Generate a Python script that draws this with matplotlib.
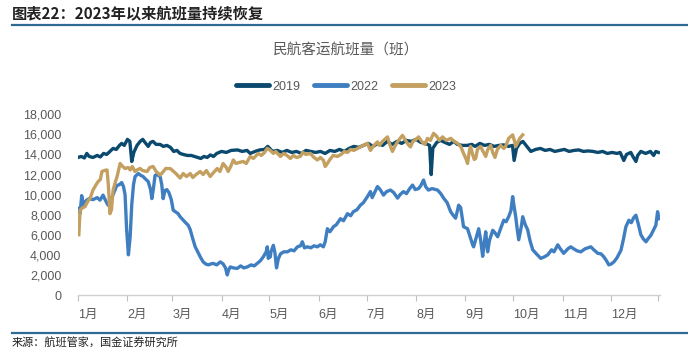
import matplotlib
matplotlib.use("Agg")
import matplotlib.pyplot as plt
from matplotlib.ticker import FuncFormatter
from matplotlib.lines import Line2D

plt.rcParams["font.family"] = ["Liberation Sans", "Noto Sans CJK SC"]

# day-of-year positions and values
days_2019 = [0, 2, 4, 5.5, 7, 9.4, 12, 14, 16, 18, 20, 22, 24, 26, 27.4, 29, 31, 32.5, 33.7, 35,
             37, 39, 40.6, 42, 44, 45.5, 47, 49, 51.5, 53.5, 55.7, 58, 60, 62, 64, 66, 68.5, 71, 73, 75,
             77, 79, 81, 83, 85, 87, 90, 93, 96, 100, 103, 106, 108, 111, 114, 117, 119, 122, 125, 128,
             131, 134, 137, 140, 143, 146, 149, 152, 155, 158, 161, 164, 167, 170, 173, 176, 179, 182, 185, 188,
             191, 194, 197, 200, 203, 206, 209, 212, 215, 218, 220.5, 221.5, 222.5, 225, 227.4, 230, 233, 235.6, 238, 241,
             244, 247, 249, 252, 255, 258, 261, 264, 267, 270, 272.5, 273.5, 275, 277, 279, 281, 284, 287, 290, 293,
             296, 299, 302, 305, 308, 311, 314, 317, 320, 323, 326, 329, 332, 335, 338, 340, 342.3, 344, 346.7, 348,
             349.9, 351, 353, 356, 359, 361, 362.4, 364]
flights_2019 = [13700, 13800, 13650, 14100, 13800, 13700, 13900, 13750, 14100, 14000, 14300, 14600, 14500, 14900, 15100, 14900, 15500, 15300, 13300, 14200,
                14900, 15300, 15500, 15200, 14800, 15200, 15300, 15000, 15000, 14800, 14900, 14700, 14300, 14400, 14100, 14000, 13900, 13900, 13800, 13700,
                13600, 13800, 13700, 13950, 13800, 14100, 14300, 14200, 14400, 14450, 14300, 14400, 14100, 14300, 14450, 14500, 14800, 14300, 14400, 14200,
                14400, 14200, 14300, 14100, 14400, 14300, 14200, 14300, 14100, 14400, 14300, 14500, 14300, 14600, 14800, 14700, 14900, 15100, 14800, 15100,
                14900, 15300, 15000, 15300, 15100, 15400, 15300, 15500, 15200, 15100, 14900, 12000, 14600, 15200, 15400, 15200, 15000, 15300, 15000, 14900,
                14900, 15000, 14800, 15100, 14900, 15000, 14800, 14900, 14950, 14800, 14900, 13400, 14600, 15100, 15300, 14900, 14300, 14500, 14600, 14400,
                14500, 14300, 14400, 14500, 14300, 14400, 14450, 14300, 14350, 14300, 14200, 14300, 14100, 14200, 14100, 14200, 13400, 14000, 14200, 13800,
                13300, 13900, 14300, 14100, 14300, 13900, 14300, 14200]

days_2022 = [0, 1.3, 2.3, 3.5, 5, 7, 9.4, 12, 13.8, 15.7, 17, 18.8, 20.5, 22, 24.3, 26, 27.4, 28.5, 29.5, 30.5,
             31.6, 32.7, 33.7, 34.8, 35.8, 37.9, 39.5, 40.8, 42, 44, 45.5, 46.3, 47.2, 48.3, 49.4, 51.5, 52.5, 53.4, 54.5, 55.7,
             57, 58.5, 59.7, 61, 62.8, 64, 66, 67.5, 69.1, 70.4, 71.6, 73.5, 75.4, 77, 78.5, 80, 81.7, 83.5, 84.8, 87,
             89.2, 91, 92.5, 93.6, 94.5, 95.5, 97.4, 99.9, 102, 104, 106.2, 108.5, 110.5, 112.4, 114.3, 116.2, 118, 118.7, 119.3, 120.6,
             121, 122.5, 123.5, 124.5, 125.6, 127, 129, 131.3, 133.5, 135.5, 137.6, 139.5, 140.7, 142, 143.8, 146, 148, 150.1, 152, 153.9,
             155, 156.4, 158, 160.2, 162, 164.6, 166.5, 169, 171, 172.7, 175, 177.1, 179, 181.5, 183.4, 184.5, 186, 187.8, 189.5, 191.6,
             193.5, 196, 198, 200.4, 202, 204.1, 206, 208, 209.8, 211.5, 213.6, 215, 216.7, 218, 219.8, 222, 225.5, 227.5, 229.3, 231.5,
             233.7, 235, 236.8, 238.1, 238.7, 240, 241.8, 243, 244.3, 246.2, 247.5, 248.1, 249.5, 251.3, 252.5, 253.8, 254.8, 255.7, 256.9, 258,
             260.1, 261.5, 263.2, 265, 267, 268.5, 270.1, 271.5, 272.6, 273.5, 274.5, 275.5, 276.4, 278, 278.9, 280.5, 282, 283.5, 285.2, 287.5,
             290.2, 292.5, 294.6, 297, 298.5, 300.9, 302.5, 304.6, 307.2, 309, 310.9, 313, 315.3, 318, 321.6, 323.5, 326, 328, 329.8, 331.5,
             332.9, 334.5, 336.1, 338, 340.5, 342, 343.6, 345.5, 347, 348.5, 349.9, 351.5, 353, 354.5, 356.2, 357.5, 359.3, 361, 362.4, 363.5,
             364.3]
flights_2022 = [8600, 8100, 9900, 8800, 9400, 9600, 9500, 9700, 9450, 9950, 9500, 8950, 9500, 10000, 10900, 11000, 11200, 10800, 10000, 6500,
                4000, 5800, 9000, 11000, 11800, 12100, 11900, 11800, 11600, 11300, 10500, 9600, 10500, 11900, 12000, 11800, 11000, 9600, 10400, 10500,
                10200, 9500, 8450, 8300, 8100, 7800, 7450, 7200, 6950, 6500, 5800, 4800, 4200, 3700, 3300, 3100, 3000, 3100, 3150, 3000,
                3300, 3100, 2700, 2000, 2500, 2800, 2700, 2650, 2900, 2700, 2800, 3000, 2900, 3150, 3400, 3800, 4300, 4800, 3650, 3800,
                4300, 4950, 4200, 2700, 3600, 4100, 4300, 4300, 4500, 4400, 4800, 4900, 5300, 4700, 4800, 4700, 4900, 4800, 5000, 4800,
                5300, 6600, 6300, 6800, 7000, 7600, 7400, 8100, 7900, 8300, 8500, 8950, 9200, 9800, 10300, 9700, 10200, 10800, 10500, 9950,
                10300, 10450, 10200, 9650, 10000, 10300, 10100, 10600, 10950, 10500, 10600, 10900, 11450, 10800, 10450, 10600, 10450, 10100, 9650, 9200,
                8300, 8000, 7650, 8500, 8950, 8700, 6800, 6700, 6600, 5650, 5000, 4800, 5600, 6600, 5500, 3850, 5200, 6300, 4300, 5400,
                6450, 6200, 5800, 6600, 7450, 7300, 7800, 8400, 9800, 8800, 7800, 6500, 5500, 6800, 7800, 7000, 6500, 5400, 4500, 4100,
                3650, 3800, 4000, 4500, 4300, 5000, 4600, 4150, 4600, 4800, 4600, 4400, 4300, 4600, 4800, 4500, 4150, 4100, 3800, 3400,
                3000, 3100, 3300, 3700, 4450, 5500, 6800, 7450, 7200, 7700, 7950, 7000, 6000, 5600, 5300, 5600, 5950, 6500, 6950, 8300,
                7600]

days_2023 = [0.5, 1.3, 3, 4.4, 6, 7.5, 9.4, 11, 12.6, 14, 15, 16.5, 18.2, 19, 20, 21, 22, 23.5, 24.5, 26.4,
             28, 29.5, 31.5, 32.7, 34, 35.8, 37.5, 38.9, 40.5, 43.3, 45, 47.1, 49, 51.5, 53, 55, 57.8, 60, 62, 64,
             66, 68, 70.4, 72, 74, 76.6, 78.5, 80.5, 82.9, 85, 87.3, 89, 91, 93, 94.2, 96, 97.4, 99, 101, 103.6,
             105.5, 108, 110, 113, 115, 117, 118.7, 120.6, 122.5, 124, 126.9, 129, 131, 133.2, 135, 137, 139.4, 141, 143, 145.7,
             148, 150.1, 152, 154, 155, 156.4, 158, 160, 162.7, 165, 167, 169, 171, 173, 175.3, 177.1, 179, 181.5, 183.4, 185,
             187.8, 189, 191, 193, 194.1, 195.5, 197.2, 199, 201, 203.5, 205, 207, 208.5, 210, 212, 213.6, 215.5, 217.5, 219.2, 221,
             223, 225, 226.5, 228.6, 231, 233.7, 236, 238.1, 240, 241.8, 243.5, 244.3, 245.5, 246.2, 247.5, 248.5, 249.4, 250.5, 252.5, 254,
             255.7, 257, 258.8, 260.1, 261.5, 263, 265.1, 267, 268.2, 270.1, 272.6, 273.8, 274.5, 275.8, 277, 278.9]
flights_2023 = [6000, 8450, 8700, 8800, 9300, 9600, 10450, 10900, 11300, 11500, 12300, 12400, 12450, 11000, 8100, 8500, 10450, 11300, 11800, 13100,
                12800, 12600, 12700, 12450, 12800, 12300, 12500, 12600, 12400, 12300, 12700, 12800, 12300, 11950, 12200, 12600, 12600, 12300, 12000, 11650,
                12100, 11800, 12100, 11700, 12000, 12300, 12000, 12400, 11800, 12200, 12600, 12300, 13100, 12700, 12300, 12900, 13450, 13100, 13200, 13300,
                13100, 13800, 13600, 14100, 13900, 14200, 14600, 14400, 14100, 14300, 13800, 14100, 13900, 13600, 13900, 13700, 13800, 14200, 14000, 14100,
                13700, 13450, 13700, 13400, 12800, 13100, 13500, 13900, 13800, 14000, 14300, 14200, 14500, 14400, 14600, 14750, 14900, 15100, 14400, 14800,
                15250, 14900, 15300, 15600, 15750, 15000, 14300, 14900, 15400, 15900, 15500, 15000, 14750, 15300, 15500, 15750, 15300, 15000, 15600, 15400,
                16100, 15800, 15400, 15750, 15400, 15600, 15300, 15100, 14800, 14100, 13500, 13100, 14400, 14800, 14000, 13500, 13600, 14500, 14800, 14300,
                13800, 14500, 14900, 14200, 13700, 14500, 14900, 14600, 14800, 15600, 15950, 15300, 14800, 15200, 15600, 15950]

month_starts = [0, 31, 59, 90, 120, 151, 181, 212, 243, 273, 304, 334]
month_labels = ["1月", "2月", "3月", "4月", "5月", "6月", "7月", "8月", "9月", "10月", "11月", "12月"]

c2019 = "#0B4A6E"
c2022 = "#3F7FC1"
c2023 = "#C4A060"
grey = "#595959"
rule_blue = "#2F6A94"

fig = plt.figure(figsize=(6.88, 3.56), dpi=100)
ax = fig.add_axes([0.1134, 0.1713, 0.8459, 0.5077])

ax.plot(days_2019, flights_2019, color=c2019, lw=2.4, solid_joinstyle="round")
ax.plot(days_2022, flights_2022, color=c2022, lw=2.4, solid_joinstyle="round")
ax.plot(days_2023, flights_2023, color=c2023, lw=2.4, solid_joinstyle="round")

ax.set_xlim(0, 365)
ax.set_ylim(0, 18000)
ax.set_yticks(range(0, 18001, 2000))
ax.yaxis.set_major_formatter(FuncFormatter(lambda v, p: f"{int(v):,}"))
ax.tick_params(axis="y", length=0, pad=12, labelsize=9, labelcolor=grey)
ax.set_xticks(month_starts + [364])
ax.set_xticklabels(month_labels + [""], ha="left")
ax.tick_params(axis="x", length=4, width=0.8, color="#BFBFBF", pad=6, labelsize=9, labelcolor=grey)
for lab in ax.get_xticklabels():
    lab.set_x(lab.get_position()[0])

for side in ["left", "right", "top"]:
    ax.spines[side].set_visible(False)
ax.spines["bottom"].set_color("#D0D0D0")
ax.spines["bottom"].set_linewidth(1.0)

handles = [Line2D([], [], color=c, lw=3.5, solid_capstyle="round") for c in (c2019, c2022, c2023)]
fig.legend(handles, ["2019", "2022", "2023"], loc="center", bbox_to_anchor=(0.503, 1 - 86.7 / 356),
           ncol=3, frameon=False, fontsize=9, labelcolor=grey, handlelength=2.6,
           handletextpad=0.3, columnspacing=1.1)

fig.text(0.503, 1 - 50 / 356, "民航客运航班量（班）", ha="center", va="center",
         fontsize=10.5, color=grey, family=["Noto Sans CJK SC"])

fig.text(12 / 688, 1 - 13 / 356, "图表22：2023年以来航班量持续恢复", ha="left", va="center",
         fontsize=11, fontweight="bold", style="italic", color="#222222",
         family=["Noto Sans CJK SC"])
fig.add_artist(Line2D([12 / 688, 1], [1 - 25 / 356, 1 - 25 / 356], color=rule_blue, lw=1.6))
fig.add_artist(Line2D([12 / 688, 1], [1 - 333 / 356, 1 - 333 / 356], color=rule_blue, lw=1.6))
fig.text(12 / 688, 1 - 343 / 356, "来源：航班管家，国金证券研究所", ha="left", va="center",
         fontsize=8, color="#222222", family=["Noto Sans CJK SC"])

fig.savefig("out.png", dpi=100)
